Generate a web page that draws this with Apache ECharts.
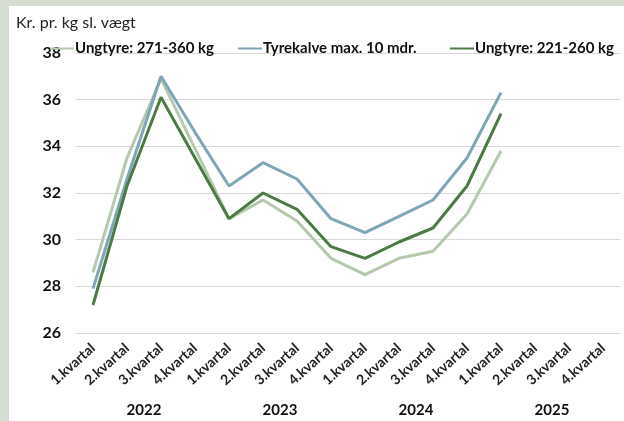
<!DOCTYPE html>
<html>
<head>
<meta charset="utf-8">
<script src="https://cdn.jsdelivr.net/npm/echarts@6/dist/echarts.min.js"></script>
<style>
  html, body { margin: 0; padding: 0; background: #d4ddcf; }
  #chart { position: absolute; left: 9px; top: 6px; width: 615px; height: 415px; background: #fff; }
</style>
</head>
<body>
<div id="chart"></div>
<script>
var quarters = ['1.kvartal', '2.kvartal', '3.kvartal', '4.kvartal',
                '1.kvartal', '2.kvartal', '3.kvartal', '4.kvartal',
                '1.kvartal', '2.kvartal', '3.kvartal', '4.kvartal',
                '1.kvartal', '2.kvartal', '3.kvartal', '4.kvartal'];
var years = ['2022', '2023', '2024', '2025'];

// Kr. pr. kg sl. vaegt
var ungtyre271 = [28.6, 33.5, 36.9, 33.9, 30.9, 31.7, 30.8, 29.2, 28.5, 29.2, 29.5, 31.1, 33.8, null, null, null];
var tyrekalve = [27.9, 32.6, 37.0, 34.6, 32.3, 33.3, 32.6, 30.9, 30.3, 31.0, 31.7, 33.5, 36.3, null, null, null];
var ungtyre221 = [27.2, 32.3, 36.1, 33.5, 30.9, 32.0, 31.3, 29.7, 29.2, 29.9, 30.5, 32.3, 35.4, null, null, null];

var names = ['Ungtyre: 271-360 kg', 'Tyrekalve max. 10 mdr.', 'Ungtyre: 221-260 kg'];
var colors = ['#b5c9ae', '#7fa6b6', '#4b7a45'];

var font = 'Lato, "Open Sans", sans-serif';

function legendAt(i, left) {
    return {
        data: [names[i]],
        left: left,
        top: 30,
        itemWidth: 24,
        itemHeight: 14,
        itemGap: 0,
        icon: 'path://M0,5.5 L24,5.5 L24,7.5 L0,7.5 Z',
        textStyle: { fontFamily: font, fontWeight: 'bold', fontSize: 15, color: '#111', padding: [0, 0, 0, -4] }
    };
}

var chart = echarts.init(document.getElementById('chart'));
chart.setOption({
    animation: false,
    title: {
        text: 'Kr. pr. kg sl. vægt',
        left: 2,
        top: 4,
        textStyle: { fontFamily: font, fontWeight: 'normal', fontSize: 16, color: '#222' }
    },
    legend: [legendAt(0, 36), legendAt(1, 224), legendAt(2, 436)],
    grid: { left: 67, right: 4, top: 47, bottom: 88 },
    xAxis: [{
        type: 'category',
        data: quarters,
        boundaryGap: true,
        axisLine: { lineStyle: { color: '#d9d9d9', width: 1 } },
        axisTick: { show: false },
        axisLabel: {
            rotate: 42,
            interval: 0,
            margin: 13,
            fontFamily: font,
            fontWeight: 'bold',
            fontSize: 14,
            color: '#222'
        }
    }, {
        type: 'category',
        data: years,
        position: 'bottom',
        axisLine: { show: false },
        axisTick: { show: false },
        axisLabel: {
            margin: 70,
            fontFamily: font,
            fontWeight: 'bold',
            fontSize: 15,
            color: '#111'
        }
    }],
    yAxis: {
        type: 'value',
        min: 26,
        max: 38,
        interval: 2,
        axisLine: { show: false },
        axisTick: { show: false },
        splitLine: { lineStyle: { color: '#d9d9d9', width: 1 } },
        axisLabel: {
            margin: 15,
            fontFamily: font,
            fontWeight: 'bold',
            fontSize: 16,
            color: '#111'
        }
    },
    series: [
        { name: names[0], type: 'line', data: ungtyre271, color: colors[0] },
        { name: names[1], type: 'line', data: tyrekalve, color: colors[1] },
        { name: names[2], type: 'line', data: ungtyre221, color: colors[2] }
    ].map(function (s) {
        s.showSymbol = false;
        s.symbol = 'none';
        s.lineStyle = { width: 3, color: s.color };
        s.xAxisIndex = 0;
        return s;
    })
});
</script>
</body>
</html>
